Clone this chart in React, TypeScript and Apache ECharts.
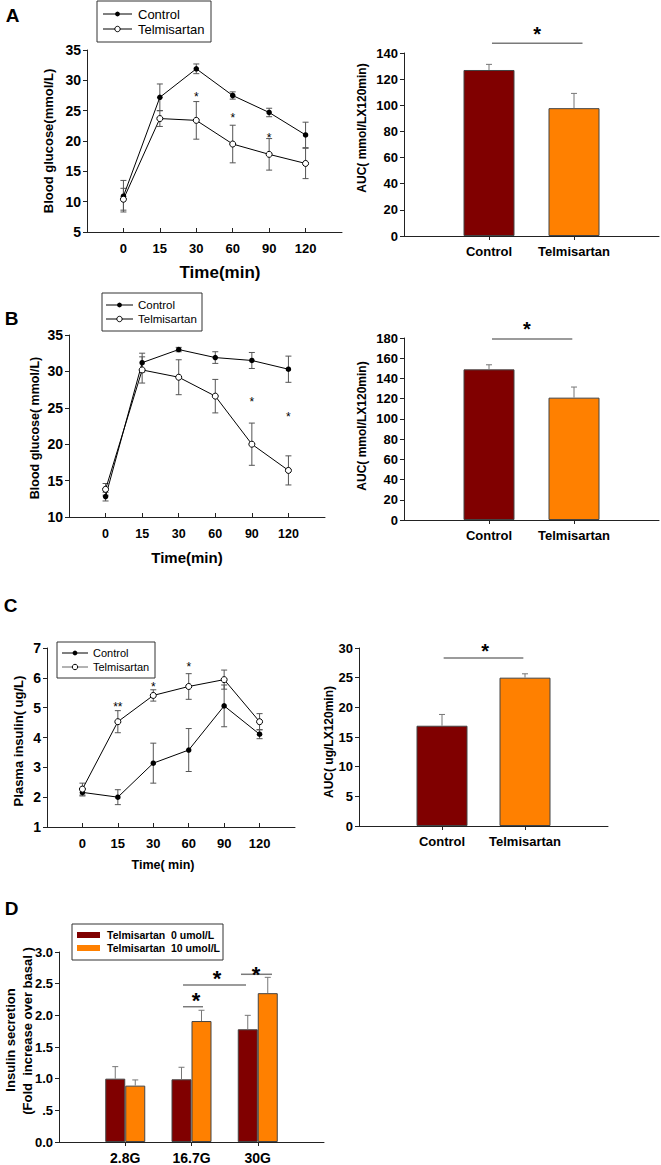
import React, { useEffect, useRef } from "react";
import * as echarts from "echarts";

// ---------- data ----------
const timeLabels = ["0", "15", "30", "60", "90", "120"];
const groups = ["Control", "Telmisartan"];
const dGroups = ["2.8G", "16.7G", "30G"];

// Panel A
const aCtrl = [10.9, 27.2, 31.9, 27.5, 24.7, 21.0];
const aCtrlSem = [2.6, 2.2, 0.8, 0.6, 0.7, 2.1];
const aTelm = [10.4, 23.7, 23.4, 19.5, 17.8, 16.3];
const aTelmSem = [1.8, 1.3, 3.1, 3.1, 2.6, 2.5];
const aStarX = [2, 3, 4];
const aStarY = [27.7, 24.3, 21.0];
const aAuc = [127, 97.8];
const aAucSem = [4.3, 11.3];
const aBracket = [1.035, 2.1, 147.4, 1.565, 157.6];

// Panel B
const bCtrl = [12.8, 31.2, 33.0, 31.9, 31.5, 30.3];
const bCtrlSem = [0.6, 1.3, 0.3, 0.8, 1.1, 1.8];
const bTelm = [13.8, 30.2, 29.2, 26.6, 20.0, 16.4];
const bTelmSem = [0.8, 1.8, 2.4, 2.3, 2.9, 2.0];
const bStarX = [4, 5];
const bStarY = [26.1, 24.1];
const bAuc = [149, 121];
const bAucSem = [4.5, 10.5];
const bBracket = [1.035, 1.98, 179, 1.447, 192.9];

// Panel C
const cCtrl = [2.16, 2.0, 3.14, 3.58, 5.06, 4.11];
const cCtrlSem = [0.12, 0.25, 0.67, 0.72, 0.7, 0.15];
const cTelm = [2.27, 4.53, 5.41, 5.71, 5.94, 4.53];
const cTelmSem = [0.2, 0.37, 0.19, 0.43, 0.32, 0.27];
const cStarX = [1, 2, 3];
const cStarY = [5.1, 5.77, 6.44];
const cStarText = ["**", "*", "*"];
const cAuc = [16.9, 25.0];
const cAucSem = [1.9, 0.65];
const cBracket = [1.02, 1.98, 28.3, 1.52, 30.3];

// Panel D
const d0 = [1.0, 0.99, 1.78];
const d0Sem = [0.19, 0.19, 0.22];
const d10 = [0.89, 1.91, 2.35];
const d10Sem = [0.09, 0.17, 0.25];
const dBrackets = [
  [1.872, 2.174, 2.136, 2.068, 2.305],
  [1.872, 2.823, 2.479, 2.385, 2.653],
  [2.747, 3.215, 2.648, 2.974, 2.716],
];

// ---------- styles ----------
const FONT = "'Liberation Sans', Arial, Helvetica, sans-serif";
const AX = "#222";
const DARK = "#800000";
const ORANGE = "#ff8000";
const barColors = [DARK, ORANGE];

function lineX(gi: number, fs: number) {
  return {
    gridIndex: gi,
    type: "value",
    min: -1,
    max: 6,
    interval: 1,
    axisLine: { show: true, onZero: false, lineStyle: { color: AX, width: 1 } },
    axisTick: { show: true, inside: true, length: 4, customValues: [0, 1, 2, 3, 4, 5], lineStyle: { color: AX } },
    axisLabel: {
      customValues: [0, 1, 2, 3, 4, 5],
      formatter: (v: number) => timeLabels[v] ?? "",
      fontFamily: FONT,
      fontWeight: "bold",
      fontSize: fs,
      color: "#000",
      margin: 10,
    },
    splitLine: { show: false },
  };
}

function barX(gi: number, max: number, labels: string[], fs: number) {
  const vals = labels.map((_, i) => i + 1);
  return {
    gridIndex: gi,
    type: "value",
    min: 0,
    max,
    interval: 1,
    axisLine: { show: true, onZero: false, lineStyle: { color: AX, width: 1 } },
    axisTick: { show: true, length: 4, customValues: vals, lineStyle: { color: AX } },
    axisLabel: {
      customValues: vals,
      formatter: (v: number) => labels[v - 1] ?? "",
      fontFamily: FONT,
      fontWeight: "bold",
      fontSize: fs,
      color: "#000",
      margin: 9,
    },
    splitLine: { show: false },
  };
}

function yAx(gi: number, min: number, max: number, interval: number, fs: number, fmt?: (v: number) => string) {
  return {
    gridIndex: gi,
    type: "value",
    min,
    max,
    interval,
    axisLine: { show: true, onZero: false, lineStyle: { color: AX, width: 1 } },
    axisTick: { show: true, length: 4, lineStyle: { color: AX } },
    axisLabel: {
      fontFamily: FONT,
      fontWeight: "bold",
      fontSize: fs,
      color: "#000",
      margin: 6,
      ...(fmt ? { formatter: fmt } : {}),
    },
    splitLine: { show: false },
  };
}

function lineSeries(gi: number, vals: number[], open: boolean, name: string) {
  return {
    type: "line",
    name,
    xAxisIndex: gi,
    yAxisIndex: gi,
    data: vals.map((v, i) => [i, v]),
    symbol: "circle",
    symbolSize: open ? 6 : 5.5,
    itemStyle: open ? { color: "#fff", borderColor: "#000", borderWidth: 1 } : { color: "#000", borderColor: "#000", borderWidth: 0 },
    lineStyle: { color: "#000", width: 1 },
    z: 4,
    silent: true,
  };
}

function errSeries(
  gi: number,
  xs: number[],
  vals: number[],
  sems: number[],
  opts: { both: boolean; offset?: number; cap: number; color: string; width?: number }
) {
  return {
    type: "custom",
    xAxisIndex: gi,
    yAxisIndex: gi,
    clip: false,
    silent: true,
    z: opts.both ? 2 : 5,
    itemStyle: { color: opts.color },
    data: vals.map((v, i) => [xs[i], v, sems[i]]),
    renderItem: (_p: any, api: any) => {
      const x = api.value(0);
      const y = api.value(1);
      const e = api.value(2);
      const c = api.coord([x, y]);
      const hi = api.coord([x, y + e]);
      const lo = api.coord([x, y - e]);
      const px = c[0] + (opts.offset || 0);
      const bottom = opts.both ? lo[1] : c[1];
      const w = opts.cap / 2;
      const style = { stroke: opts.color, lineWidth: opts.width || 1 };
      const children: any[] = [
        { type: "line", shape: { x1: px, y1: hi[1], x2: px, y2: bottom }, style },
        { type: "line", shape: { x1: px - w, y1: hi[1], x2: px + w, y2: hi[1] }, style },
      ];
      if (opts.both) children.push({ type: "line", shape: { x1: px - w, y1: lo[1], x2: px + w, y2: lo[1] }, style });
      return { type: "group", children };
    },
  };
}

function starSeries(gi: number, xs: number[], ys: number[], texts: string[], fs: number) {
  return {
    type: "custom",
    xAxisIndex: gi,
    yAxisIndex: gi,
    clip: false,
    silent: true,
    z: 6,
    itemStyle: { color: "#000" },
    data: xs.map((x, i) => [x, ys[i], i]),
    renderItem: (_p: any, api: any) => {
      const c = api.coord([api.value(0), api.value(1)]);
      const t = texts[api.value(2)];
      return {
        type: "text",
        x: c[0],
        y: c[1] + fs * 0.22,
        style: { text: t, font: `${fs}px ${FONT}`, fill: "#000", align: "center", verticalAlign: "middle" },
      };
    },
  };
}

function bracketSeries(gi: number, items: number[][], fs: number) {
  return {
    type: "custom",
    xAxisIndex: gi,
    yAxisIndex: gi,
    clip: false,
    silent: true,
    z: 6,
    itemStyle: { color: "#000" },
    data: items,
    renderItem: (_p: any, api: any) => {
      const p1 = api.coord([api.value(0), api.value(2)]);
      const p2 = api.coord([api.value(1), api.value(2)]);
      const ps = api.coord([api.value(3), api.value(4)]);
      return {
        type: "group",
        children: [
          { type: "line", shape: { x1: p1[0], y1: p1[1], x2: p2[0], y2: p2[1] }, style: { stroke: "#7a7a7a", lineWidth: 1.5 } },
          {
            type: "text",
            x: ps[0],
            y: ps[1] + fs * 0.22,
            style: { text: "*", font: `bold ${fs}px ${FONT}`, fill: "#000", align: "center", verticalAlign: "middle" },
          },
        ],
      };
    },
  };
}

function aucBar(gi: number, vals: number[]) {
  return {
    type: "bar",
    xAxisIndex: gi,
    yAxisIndex: gi,
    barWidth: 51,
    silent: true,
    z: 3,
    data: vals.map((v, i) => ({ value: [i + 1, v], itemStyle: { color: barColors[i] } })),
    itemStyle: { borderColor: "#444", borderWidth: 1 },
  };
}

function txt(x: number, y: number, text: string, font: string, rot = 0, align = "center") {
  return {
    type: "text",
    x,
    y,
    rotation: rot,
    silent: true,
    style: { text, font, fill: "#000", align, verticalAlign: "middle" },
  };
}

function lineLegend(x: number, y: number, w: number, h: number, rows: number[], lx1: number, lx2: number, tx: number, fs: number, telmColor: string) {
  const cx = (lx1 + lx2) / 2;
  return [
    { type: "rect", shape: { x, y, width: w, height: h }, style: { fill: "#fff", stroke: "#333", lineWidth: 1 }, silent: true },
    { type: "line", shape: { x1: lx1, y1: rows[0], x2: lx2, y2: rows[0] }, style: { stroke: "#000", lineWidth: 1 }, silent: true },
    { type: "circle", shape: { cx, cy: rows[0], r: 2.4 }, style: { fill: "#000" }, silent: true },
    txt(tx, rows[0], groups[0], `${fs}px ${FONT}`, 0, "left"),
    { type: "line", shape: { x1: lx1, y1: rows[1], x2: lx2, y2: rows[1] }, style: { stroke: telmColor, lineWidth: 1 }, silent: true },
    { type: "circle", shape: { cx, cy: rows[1], r: 2.7 }, style: { fill: "#fff", stroke: "#000", lineWidth: 1 }, silent: true },
    txt(tx, rows[1], groups[1], `${fs}px ${FONT}`, 0, "left"),
  ];
}

function buildOption(): any {
  const R = Math.PI / 2;
  const idx = [0, 1, 2, 3, 4, 5];
  const grids = [
    { left: 87, top: 50, width: 255, height: 182 },
    { left: 404, top: 53, width: 255, height: 183 },
    { left: 69, top: 335, width: 256, height: 182 },
    { left: 404, top: 338, width: 255, height: 182 },
    { left: 47, top: 648, width: 248, height: 179 },
    { left: 359, top: 648, width: 249, height: 178 },
    { left: 59, top: 952, width: 265, height: 190 },
  ];
  const lineErr = { both: true, cap: 6, color: "#555" };
  const barErr = { both: false, cap: 6, color: "#777" };
  const dFmt = (v: number) => (v === 0 ? "0.0" : v === 0.5 ? ".5" : v.toFixed(1));

  return {
    animation: false,
    backgroundColor: "#fff",
    grid: grids,
    xAxis: [
      lineX(0, 13),
      barX(1, 3, groups, 13),
      lineX(2, 12.5),
      barX(3, 3, groups, 13),
      lineX(4, 13),
      barX(5, 3, groups, 13),
      barX(6, 4, dGroups, 14),
    ],
    yAxis: [
      yAx(0, 5, 35, 5, 14),
      yAx(1, 0, 140, 20, 13),
      yAx(2, 10, 35, 5, 14),
      yAx(3, 0, 180, 20, 13),
      yAx(4, 1, 7, 1, 14),
      yAx(5, 0, 30, 5, 13),
      yAx(6, 0, 3, 0.5, 13, dFmt),
    ],
    series: [
      // A
      errSeries(0, idx, aCtrl, aCtrlSem, lineErr),
      errSeries(0, idx, aTelm, aTelmSem, lineErr),
      lineSeries(0, aCtrl, false, "Control"),
      lineSeries(0, aTelm, true, "Telmisartan"),
      starSeries(0, aStarX, aStarY, ["*", "*", "*"], 12),
      aucBar(1, aAuc),
      errSeries(1, [1, 2], aAuc, aAucSem, barErr),
      bracketSeries(1, [aBracket], 20),
      // B
      errSeries(2, idx, bCtrl, bCtrlSem, lineErr),
      errSeries(2, idx, bTelm, bTelmSem, lineErr),
      lineSeries(2, bCtrl, false, "Control"),
      lineSeries(2, bTelm, true, "Telmisartan"),
      starSeries(2, bStarX, bStarY, ["*", "*"], 12),
      aucBar(3, bAuc),
      errSeries(3, [1, 2], bAuc, bAucSem, barErr),
      bracketSeries(3, [bBracket], 20),
      // C
      errSeries(4, idx, cCtrl, cCtrlSem, lineErr),
      errSeries(4, idx, cTelm, cTelmSem, lineErr),
      lineSeries(4, cCtrl, false, "Control"),
      lineSeries(4, cTelm, true, "Telmisartan"),
      starSeries(4, cStarX, cStarY, cStarText, 12),
      aucBar(5, cAuc),
      errSeries(5, [1, 2], cAuc, cAucSem, barErr),
      bracketSeries(5, [cBracket], 20),
      // D
      {
        type: "bar",
        name: "Telmisartan  0 umol/L",
        xAxisIndex: 6,
        yAxisIndex: 6,
        barWidth: 20,
        barGap: "0%",
        silent: true,
        z: 3,
        data: d0.map((v, i) => [i + 1, v]),
        itemStyle: { color: DARK, borderColor: "#444", borderWidth: 1 },
      },
      {
        type: "bar",
        name: "Telmisartan  10 umol/L",
        xAxisIndex: 6,
        yAxisIndex: 6,
        barWidth: 20,
        barGap: "0%",
        silent: true,
        z: 3,
        data: d10.map((v, i) => [i + 1, v]),
        itemStyle: { color: ORANGE, borderColor: "#444", borderWidth: 1 },
      },
      errSeries(6, [1, 2, 3], d0, d0Sem, { ...barErr, offset: -10 }),
      errSeries(6, [1, 2, 3], d10, d10Sem, { ...barErr, offset: 10 }),
      bracketSeries(6, dBrackets, 22),
    ],
    graphic: [
      // panel letters
      txt(12.5, 15, "A", `bold 19px ${FONT}`),
      txt(11.5, 318, "B", `bold 19px ${FONT}`),
      txt(10.5, 605, "C", `bold 19px ${FONT}`),
      txt(11.5, 908, "D", `bold 19px ${FONT}`),
      // axis titles
      txt(48, 141, "Blood glucose(mmol/L)", `bold 13px ${FONT}`, R),
      txt(220, 272, "Time(min)", `bold 17px ${FONT}`),
      txt(362, 128, "AUC( mmol/LX120min)", `bold 12px ${FONT}`, R),
      txt(35, 428, "Blood glucose( mmol/L)", `bold 12.5px ${FONT}`, R),
      txt(187, 557, "Time(min)", `bold 15px ${FONT}`),
      txt(362, 426, "AUC( mmol/LX120min)", `bold 12px ${FONT}`, R),
      txt(18, 741, "Plasma insulin( ug/L)", `bold 13px ${FONT}`, R),
      txt(163, 865, "Time( min)", `bold 12.5px ${FONT}`),
      txt(329, 742, "AUC( ug/LX120min)", `bold 12px ${FONT}`, R),
      txt(10, 1040, "Insulin secretion", `bold 13px ${FONT}`, R),
      txt(27, 1031, "(Fold  increase over basal )", `bold 13px ${FONT}`, R),
      // legends
      ...lineLegend(97, 1, 114, 41, [14, 29], 103, 132, 138, 13, "#000"),
      ...lineLegend(102, 293, 100, 38, [305, 319], 106, 133, 138, 11.5, "#000"),
      ...lineLegend(57, 642, 98, 36, [653, 667], 62, 88, 93, 11, "#666"),
      { type: "rect", shape: { x: 72, y: 924, width: 151, height: 36 }, style: { fill: "#fff", stroke: "#333", lineWidth: 1 }, silent: true },
      { type: "rect", shape: { x: 77, y: 932, width: 23, height: 6 }, style: { fill: DARK }, silent: true },
      { type: "rect", shape: { x: 77, y: 945, width: 23, height: 6 }, style: { fill: ORANGE }, silent: true },
      txt(107, 935, "Telmisartan  0 umol/L", `bold 10.5px ${FONT}`, 0, "left"),
      txt(107, 948, "Telmisartan  10 umol/L", `bold 10.5px ${FONT}`, 0, "left"),
    ],
  };
}

export default function App() {
  const ref = useRef<HTMLDivElement>(null);
  useEffect(() => {
    if (!ref.current) return;
    const chart = echarts.init(ref.current, null, { renderer: "svg" });
    chart.setOption(buildOption());
    return () => chart.dispose();
  }, []);
  return (
    <div
      ref={ref}
      style={{ position: "absolute", left: 0, top: 0, width: 661, height: 1165, background: "#fff" }}
    />
  );
}
